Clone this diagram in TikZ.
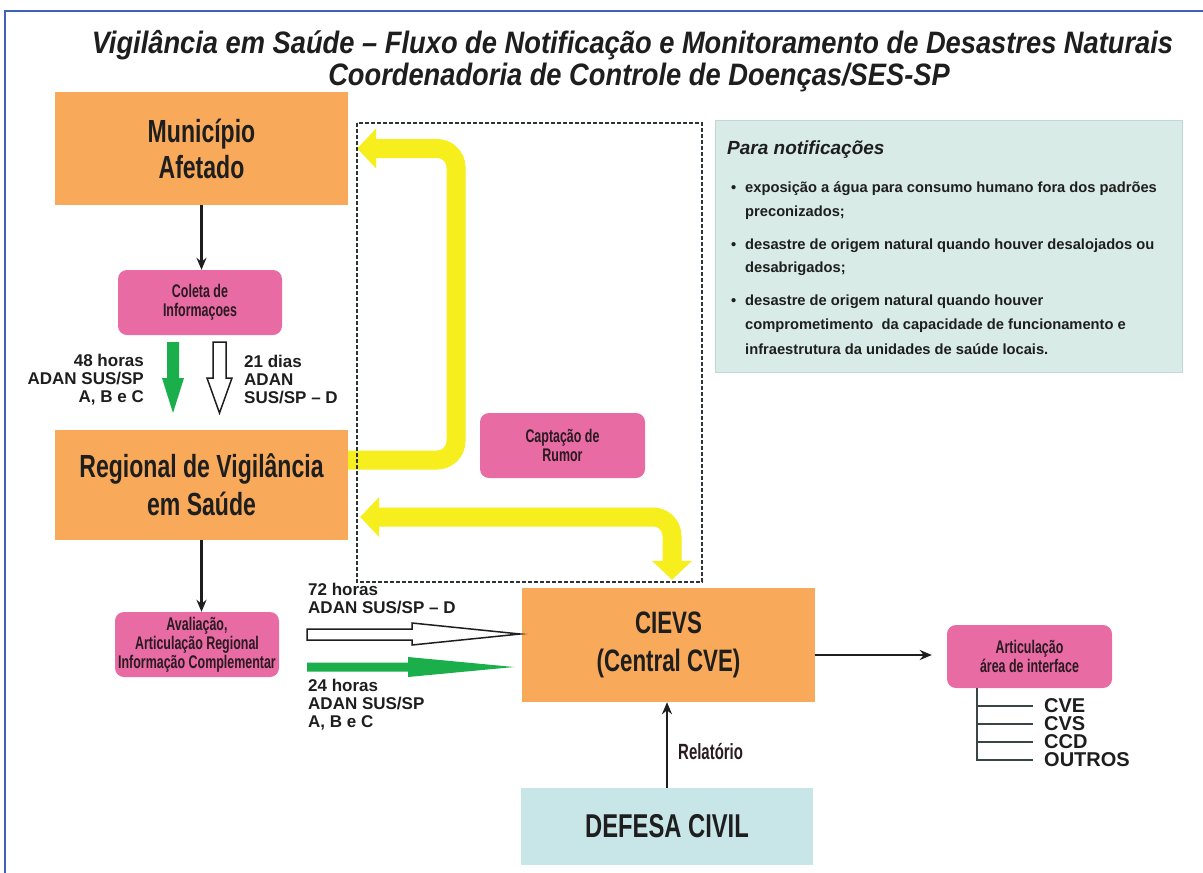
\documentclass[tikz,border=0pt]{standalone}
\usepackage{fontspec}
\setmainfont{Liberation Sans}
\newfontfamily\narrowf[FakeStretch=0.72]{Liberation Sans}
\newfontfamily\narrowpf[FakeStretch=0.68]{Liberation Sans}
\newfontfamily\titlef[FakeStretch=0.88]{Liberation Sans}
\usetikzlibrary{arrows.meta,calc}
\definecolor{orangebox}{HTML}{F8A95A}
\definecolor{pinkbox}{HTML}{E86BA3}
\definecolor{infobox}{HTML}{D8EBE6}
\definecolor{infoline}{HTML}{C3D8D4}
\definecolor{defbox}{HTML}{C8E6E8}
\definecolor{frameblue}{HTML}{3F63B8}
\definecolor{yellowarr}{HTML}{F7EE1E}
\definecolor{greenarr}{HTML}{1BAF4B}
\definecolor{txt}{HTML}{1E1E1E}
\definecolor{pinktxt}{HTML}{2A1A22}
\definecolor{dashc}{HTML}{2D3438}
\definecolor{treec}{HTML}{3A4646}
\tikzset{ytip/.tip={Triangle[width=39pt,length=19pt]}}
\begin{document}
\begin{tikzpicture}[x=1pt,y=-1pt,
  boxo/.style={fill=orangebox, draw=none, minimum width=293pt, minimum height=113pt,
    align=center, text=txt, inner sep=0pt,
    font=\narrowf\bfseries\fontsize{32}{36}\selectfont},
  boxp/.style={fill=pinkbox, rounded corners=9pt, minimum width=164pt, minimum height=65pt,
    align=center, text=pinktxt, inner sep=0pt,
    font=\narrowpf\bfseries\fontsize{18.3}{19}\selectfont},
  blk/.style={draw=txt, line width=2.4pt, -{Stealth[length=12pt,width=10pt]}},
  lbl/.style={text=txt, inner sep=0pt, font=\bfseries\fontsize{17}{18}\selectfont},
  infotxt/.style={text=txt, inner sep=0pt, anchor=base west, font=\bfseries\fontsize{14.7}{24}\selectfont},
  treelbl/.style={text=txt, inner sep=0pt, anchor=west, font=\bfseries\fontsize{20}{20}\selectfont},
  treeline/.style={draw=treec, line width=2pt},
  yarrow/.style={draw=yellowarr, line width=19pt, rounded corners=19pt},
  blockw/.style={fill=white, draw=txt, line width=1.5pt, line join=miter},
  blockg/.style={fill=greenarr, draw=none}
]
\useasboundingbox (0,0) rectangle (1203,873);
\fill[white] (0,0) rectangle (1203,873);
\draw[frameblue, line width=2.5pt] (5,880) -- (5,11) -- (1210,11);

% title
\node[text=txt, inner sep=0pt, anchor=base, font=\titlef\bfseries\itshape\fontsize{31}{31}\selectfont] (t1) at (632.5,53)
  {Vigilância em Saúde – Fluxo de Notificação e Monitoramento de Desastres Naturais};
\node[text=txt, inner sep=0pt, anchor=base, font=\titlef\bfseries\itshape\fontsize{31}{31}\selectfont] (t2) at (639,85)
  {Coordenadoria de Controle de Doenças/SES-SP};

% main boxes
\node[boxo] (mun) at (201.5,148.5) {Município\\Afetado};
\node[boxp] (col) at (200,302.5) {Coleta de\\Informaçoes};
\node[boxo, minimum height=110pt, font=\narrowf\bfseries\fontsize{32}{38}\selectfont] (reg) at (201.5,485) {Regional de Vigilância\\em Saúde};
\node[boxp] (aval) at (197,644.5) {Avaliação,\\Articulação Regional\\Informação Complementar};
\node[boxp, minimum width=165pt] (capt) at (562.5,445.5) {Captação de\\Rumor};
\node[boxo, minimum height=114pt, font=\narrowf\bfseries\fontsize{31}{38}\selectfont] (cievs) at (668.5,645) {CIEVS\\(Central CVE)};
\node[boxp, minimum width=165pt, minimum height=63pt] (artic) at (1029.5,656.5) {Articulação\\área de interface};
\node[boxo, fill=defbox, minimum width=292pt, minimum height=77pt, font=\narrowf\bfseries\fontsize{33}{36}\selectfont] (def) at (667,826.5) {DEFESA CIVIL};

% info box
\node[fill=infobox, draw=infoline, line width=1pt, minimum width=467pt, minimum height=252pt, inner sep=0pt] (info) at (948.5,246) {};
\node[text=txt, inner sep=0pt, anchor=base west, font=\bfseries\itshape\fontsize{19}{19}\selectfont] (infot) at (727,154) {Para notificações};
\node[infotxt] (b1) at (731,192) {•};
\node[infotxt] (i1a) at (745,192) {exposição a água para consumo humano fora dos padrões};
\node[infotxt] (i1b) at (745,216) {preconizados;};
\node[infotxt] (b2) at (731,249) {•};
\node[infotxt] (i2a) at (745,249) {desastre de origem natural quando houver desalojados ou};
\node[infotxt] (i2b) at (745,272) {desabrigados;};
\node[infotxt] (b3) at (731,305) {•};
\node[infotxt] (i3a) at (745,305) {desastre de origem natural quando houver};
\node[infotxt] (i3b) at (745,329) {comprometimento\ \ da capacidade de funcionamento e};
\node[infotxt] (i3c) at (745,354) {infraestrutura da unidades de saúde locais.};

% yellow arrows
\coordinate (yc1) at (456,0);
\coordinate (yc2) at (672,0);
\coordinate (ys1) at ([yshift=25pt]reg.east);
\coordinate (ye1) at ([xshift=9pt]mun.east);
\draw[yarrow, -{ytip}] (ys1) -- (ys1 -| yc1) -- (yc1 |- ye1) -- (ye1);
\coordinate (ys2) at ([xshift=12pt,yshift=-32pt]reg.east);
\coordinate (ye2) at ([yshift=8pt]cievs.north);
\draw[yarrow, {ytip}-{ytip}] (ys2) -- (ys2 -| yc2) -- (yc2 |- ye2);

% dashed box
\draw[dashc, line width=2.8pt, dash pattern=on 4pt off 2pt] (357,123) rectangle (702,582);

% black arrows
\draw[blk] (mun.south) -- (mun.south |- col.north);
\draw[blk] (reg.south) -- (reg.south |- aval.north);
\draw[blk] (def.north) -- (def.north |- cievs.south);
\draw[blk] (cievs.east |- 0,655) -- ([xshift=-15pt]artic.west |- 0,655);
\node[text=pinktxt, inner sep=0pt, anchor=west, font=\narrowpf\bfseries\fontsize{22}{22}\selectfont] (rel) at (678,752) {Relatório};

% block arrows
\path[blockg] (167,342) -- (179,342) -- (179,378) -- (184,378) -- (173,413) -- (162,378) -- (167,378) -- cycle;
\path[blockw] (213,342) -- (226,342) -- (226,378) -- (232,378) -- (219.5,413) -- (207,378) -- (213,378) -- cycle;
\path[blockw] (307,629) -- (412,629) -- (412,623) -- (520,634) -- (412,645) -- (412,640) -- (307,640) -- cycle;
\path[blockg] (307,662.5) -- (408,662.5) -- (408,657) -- (514,667) -- (408,677) -- (408,671.5) -- (307,671.5) -- cycle;

% labels
\node[lbl, anchor=east, align=right] (l48) at (144,380) {48 horas\\ADAN SUS/SP\\A, B e C};
\node[lbl, anchor=west, align=left] (l21) at (244,380) {21 dias\\ADAN\\SUS/SP – D};
\node[lbl, anchor=west, align=left] (l72) at (308,599) {72 horas\\ADAN SUS/SP – D};
\node[lbl, anchor=west, align=left] (l24) at (308,705) {24 horas\\ADAN SUS/SP\\A, B e C};

% tree
\node[treelbl] (cve) at (1044,706) {CVE};
\node[treelbl] (cvs) at (1044,724) {CVS};
\node[treelbl] (ccd) at (1044,742) {CCD};
\node[treelbl] (out) at (1044,760) {OUTROS};
\coordinate (tx) at ([xshift=-52.5pt]artic.south);
\draw[treeline] (tx) |- ([xshift=-11pt]out.west);
\draw[treeline] (tx |- cve.west) -- ([xshift=-11pt]cve.west);
\draw[treeline] (tx |- cvs.west) -- ([xshift=-11pt]cvs.west);
\draw[treeline] (tx |- ccd.west) -- ([xshift=-11pt]ccd.west);
\end{tikzpicture}
\end{document}
